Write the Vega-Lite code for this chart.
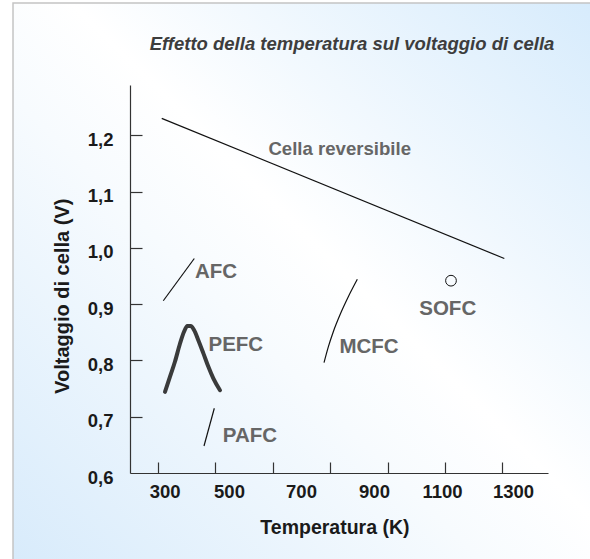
{
  "$schema": "https://vega.github.io/schema/vega-lite/v6.json",
  "width": 418,
  "height": 388,
  "autosize": {"type": "none"},
  "padding": {"left": 130, "top": 85, "right": 42, "bottom": 86},
  "background": "#ffffff",
  "title": {
    "text": "Effetto della temperatura sul voltaggio di cella",
    "font": "Liberation Sans",
    "fontSize": 18.5,
    "fontStyle": "italic",
    "fontWeight": "bold",
    "color": "#3d3d3d",
    "anchor": "middle",
    "frame": "group",
    "baseline": "alphabetic",
    "offset": -66,
    "dx": 13
  },
  "config": {
    "view": {"stroke": null},
    "axis": {"zindex": 1, "grid": false}
  },
  "datasets": {
    "curves": [
      {"series": "Cella reversibile", "T": 310.8, "V": 1.230},
      {"series": "Cella reversibile", "T": 1306.7, "V": 0.981},
      {"series": "AFC", "T": 315.4, "V": 0.906},
      {"series": "AFC", "T": 405.5, "V": 0.981},
      {"series": "PAFC", "T": 433.7, "V": 0.648},
      {"series": "PAFC", "T": 463.7, "V": 0.715},
      {"series": "MCFC", "T": 782.6, "V": 0.796},
      {"series": "MCFC", "T": 795.1, "V": 0.824},
      {"series": "MCFC", "T": 809.6, "V": 0.851},
      {"series": "MCFC", "T": 829.1, "V": 0.881},
      {"series": "MCFC", "T": 853.2, "V": 0.913},
      {"series": "MCFC", "T": 879.4, "V": 0.944},
      {"series": "PEFC", "T": 320.3, "V": 0.744},
      {"series": "PEFC", "T": 334.9, "V": 0.771},
      {"series": "PEFC", "T": 349.4, "V": 0.798},
      {"series": "PEFC", "T": 364.0, "V": 0.830},
      {"series": "PEFC", "T": 375.6, "V": 0.851},
      {"series": "PEFC", "T": 385.2, "V": 0.861},
      {"series": "PEFC", "T": 395.1, "V": 0.861},
      {"series": "PEFC", "T": 404.7, "V": 0.854},
      {"series": "PEFC", "T": 417.2, "V": 0.836},
      {"series": "PEFC", "T": 431.7, "V": 0.813},
      {"series": "PEFC", "T": 446.2, "V": 0.789},
      {"series": "PEFC", "T": 460.8, "V": 0.768},
      {"series": "PEFC", "T": 480.2, "V": 0.747}
    ],
    "points": [
      {"series": "SOFC", "T": 1151.7, "V": 0.9416}
    ],
    "labels": [
      {"label": "Cella reversibile", "T": 828.2, "V": 1.1648},
      {"label": "AFC", "T": 468.6, "V": 0.9464},
      {"label": "PEFC", "T": 526.2, "V": 0.8172},
      {"label": "PAFC", "T": 567.4, "V": 0.6556},
      {"label": "MCFC", "T": 913.4, "V": 0.8126},
      {"label": "SOFC", "T": 1142.2, "V": 0.8806}
    ]
  },
  "layer": [
    {
      "data": {"values": [{"panel": "background"}]},
      "mark": {
        "type": "rect",
        "fill": {
          "gradient": "linear",
          "x1": 0, "y1": 1, "x2": 1, "y2": 0,
          "stops": [
            {"offset": 0, "color": "#d6eafb"},
            {"offset": 0.42, "color": "#f7fbfe"},
            {"offset": 0.55, "color": "#ffffff"},
            {"offset": 1, "color": "#d6ebfc"}
          ]
        },
        "stroke": "#c4c4c4",
        "strokeWidth": 1.5
      },
      "encoding": {
        "x": {
          "datum": -121.5,
          "type": "quantitative",
          "scale": {"domain": [218.6, 1433.7], "nice": false, "zero": false},
          "axis": {
            "orient": "bottom",
            "zindex": 1,
            "values": [300, 467, 633, 800, 968, 1134, 1300],
            "labels": false,
            "ticks": true,
            "tickSize": -11,
            "tickColor": "#333333",
            "tickWidth": 1.2,
            "domain": true,
            "domainColor": "#333333",
            "domainWidth": 1.2,
            "title": null
          }
        },
        "x2": {"datum": 1590},
        "y": {
          "datum": 1.4349,
          "type": "quantitative",
          "scale": {"domain": [0.6, 1.2892], "nice": false, "zero": false},
          "axis": {
            "orient": "left",
            "zindex": 1,
            "values": [0.7, 0.8, 0.9, 1.0, 1.1, 1.2],
            "labels": false,
            "ticks": true,
            "tickSize": -12,
            "tickColor": "#333333",
            "tickWidth": 1.2,
            "domain": true,
            "domainColor": "#333333",
            "domainWidth": 1.2,
            "title": null
          }
        },
        "y2": {"datum": 0.40}
      }
    },
    {
      "data": {"name": "curves"},
      "transform": [{"filter": "datum.series !== 'PEFC'"}],
      "mark": {"type": "line", "color": "#111111", "strokeWidth": 1.2, "interpolate": "monotone"},
      "encoding": {
        "x": {
          "field": "T",
          "type": "quantitative",
          "axis": {
            "orient": "bottom",
            "zindex": 1,
            "values": [319.5, 506.4, 715.7, 927.9, 1125.6, 1332],
            "labelExpr": "format(round((datum.value - 300) / 200) * 200 + 300, 'd')",
            "ticks": false,
            "tickSize": 0,
            "domain": false,
            "labelPadding": 9,
            "labelFlush": false,
            "labelOverlap": false,
            "labelBound": false,
            "labelFont": "Liberation Sans",
            "labelFontWeight": "bold",
            "labelFontSize": 18.5,
            "labelColor": "#1a1a1a",
            "title": "Temperatura (K)",
            "titleFont": "Liberation Sans",
            "titleFontWeight": "bold",
            "titleFontSize": 19.5,
            "titleColor": "#1a1a1a",
            "titleX": 204.4,
            "titleY": 60.5,
            "titleAlign": "center",
            "titleBaseline": "alphabetic",
            "titleAngle": 0
          }
        },
        "y": {
          "field": "V",
          "type": "quantitative",
          "axis": {
            "orient": "left",
            "zindex": 1,
            "values": [0.6, 0.7, 0.8, 0.9, 1.0, 1.1, 1.2],
            "labelExpr": "replace(format(datum.value, '.1f'), '.', ',')",
            "ticks": false,
            "tickSize": 0,
            "domain": false,
            "labelPadding": 17,
            "labelOffset": 4,
            "labelFlush": false,
            "labelOverlap": false,
            "labelBound": false,
            "labelBaseline": "middle",
            "labelFont": "Liberation Sans",
            "labelFontWeight": "bold",
            "labelFontSize": 18.5,
            "labelColor": "#1a1a1a",
            "title": "Voltaggio di cella (V)",
            "titleFont": "Liberation Sans",
            "titleFontWeight": "bold",
            "titleFontSize": 20,
            "titleColor": "#1a1a1a",
            "titleX": -62,
            "titleY": 210.8,
            "titleAngle": -90,
            "titleAlign": "center",
            "titleBaseline": "alphabetic"
          }
        },
        "detail": {"field": "series", "type": "nominal"}
      }
    },
    {
      "data": {"name": "curves"},
      "transform": [{"filter": "datum.series === 'PEFC'"}],
      "mark": {"type": "line", "color": "#262626", "strokeWidth": 4, "interpolate": "monotone", "strokeCap": "round", "opacity": 0.9},
      "encoding": {
        "x": {"field": "T", "type": "quantitative", "axis": null},
        "y": {"field": "V", "type": "quantitative", "axis": null}
      }
    },
    {
      "data": {"name": "points"},
      "mark": {"type": "point", "shape": "circle", "size": 115, "filled": false, "stroke": "#111111", "strokeWidth": 1, "opacity": 1},
      "encoding": {
        "x": {"field": "T", "type": "quantitative", "axis": null},
        "y": {"field": "V", "type": "quantitative", "axis": null}
      }
    },
    {
      "data": {"name": "labels"},
      "transform": [{"filter": "datum.label === 'Cella reversibile'"}],
      "mark": {"type": "text", "align": "center", "baseline": "alphabetic", "font": "Liberation Sans", "fontWeight": "bold", "fontSize": 18.6, "color": "#666666"},
      "encoding": {
        "x": {"field": "T", "type": "quantitative", "axis": null},
        "y": {"field": "V", "type": "quantitative", "axis": null},
        "text": {"field": "label", "type": "nominal"}
      }
    },
    {
      "data": {"name": "labels"},
      "transform": [{"filter": "datum.label !== 'Cella reversibile'"}],
      "mark": {"type": "text", "align": "center", "baseline": "alphabetic", "font": "Liberation Sans", "fontWeight": "bold", "fontSize": 20.5, "color": "#666666"},
      "encoding": {
        "x": {"field": "T", "type": "quantitative", "axis": null},
        "y": {"field": "V", "type": "quantitative", "axis": null},
        "text": {"field": "label", "type": "nominal"}
      }
    }
  ],
  "resolve": {"axis": {"x": "independent", "y": "independent"}}
}
